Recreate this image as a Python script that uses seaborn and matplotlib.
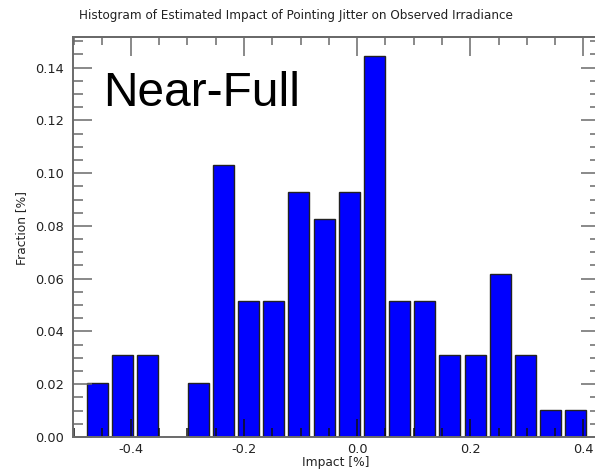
import numpy as np
import pandas as pd
import matplotlib
matplotlib.use("Agg")
import matplotlib.pyplot as plt
import seaborn as sns
from matplotlib.ticker import MultipleLocator, NullFormatter

# ---- data ----
bin_centers = [-0.4588, -0.4143, -0.3698, -0.3254, -0.2809, -0.2364, -0.1919,
               -0.1474, -0.1030, -0.0585, -0.0140, 0.0305, 0.0750, 0.1194,
               0.1639, 0.2084, 0.2529, 0.2974, 0.3418, 0.3863]
counts = [2, 3, 3, 0, 2, 10, 5, 5, 9, 8, 9, 14, 5, 5, 3, 3, 6, 3, 1, 1]
n_total = 97
fractions = [c / n_total for c in counts]

title = "Histogram of Estimated Impact of Pointing Jitter on Observed Irradiance"
xlabel = "Impact [%]"
ylabel = "Fraction [%]"
annotation = "Near-Full"

df = pd.DataFrame({"impact": bin_centers, "fraction": fractions})

W, H = 595, 473
fig = plt.figure(figsize=(W / 100, H / 100), dpi=100)
left_px, right_px, top_px, bot_px = 72.5, 599.5, 37.0, 437.0
ax = fig.add_axes([left_px / W, 1 - bot_px / H, (right_px - left_px) / W, (bot_px - top_px) / H])

sns.barplot(data=df, x="impact", y="fraction", native_scale=True, width=0.835,
            color="#0000ff", saturation=1, edgecolor="#222222", linewidth=1.0, ax=ax)

ax.set_xlim(-0.503, 0.4283)
ax.set_ylim(0, 0.1516)
ax.set_axisbelow(False)

gray = "#6a6a6a"
for s in ax.spines.values():
    s.set_color(gray)
    s.set_linewidth(1.4)
    s.set_zorder(5)

ax.xaxis.set_major_locator(MultipleLocator(0.2))
ax.xaxis.set_minor_locator(MultipleLocator(0.05))
ax.yaxis.set_major_locator(MultipleLocator(0.02))
ax.yaxis.set_minor_locator(MultipleLocator(0.005))
ax.xaxis.set_major_formatter(plt.FuncFormatter(lambda v, p: f"{v:.1f}"))
ax.yaxis.set_major_formatter(plt.FuncFormatter(lambda v, p: f"{v:.2f}"))

ax.tick_params(axis="both", which="both", direction="in", top=False, right=True,
               labelsize=9.3, labelcolor="#222222")
# bottom ticks in black, drawn over the bars
ax.tick_params(axis="x", which="major", length=13, width=1.1, pad=4, color="#111111")
ax.tick_params(axis="x", which="minor", length=6.5, width=1.1, color="#111111")
ax.tick_params(axis="y", which="major", length=13.5, width=1.1, pad=6, color=gray)
ax.tick_params(axis="y", which="minor", length=7, width=1.1, color=gray)

# top axis with gray ticks
sec = ax.secondary_xaxis("top")
sec.xaxis.set_major_locator(MultipleLocator(0.2))
sec.xaxis.set_minor_locator(MultipleLocator(0.05))
sec.xaxis.set_major_formatter(NullFormatter())
sec.tick_params(which="both", direction="in", color=gray, width=1.1)
sec.tick_params(which="major", length=14)
sec.tick_params(which="minor", length=6)
sec.spines["top"].set_color(gray)
sec.spines["top"].set_linewidth(1.4)

ax.set_xlabel(xlabel, fontsize=8.8, color="#222222")
ax.set_ylabel(ylabel, fontsize=8.8, color="#222222")
ax.xaxis.set_label_coords((336 - left_px) / (right_px - left_px), -(462 - bot_px) / (bot_px - top_px))
ax.yaxis.set_label_coords((22 - left_px) / (right_px - left_px), (bot_px - 228) / (bot_px - top_px))
ax.xaxis.label.set_va("center")
ax.yaxis.label.set_va("center")

fig.text(296 / W, 1 - 15 / H, title, ha="center", va="center", fontsize=8.65, color="#222222")
fig.text(103 / W, 1 - 106 / H, annotation, ha="left", va="baseline",
         fontsize=34.5, family="Liberation Sans", color="black")

fig.savefig("out.png", dpi=100)
